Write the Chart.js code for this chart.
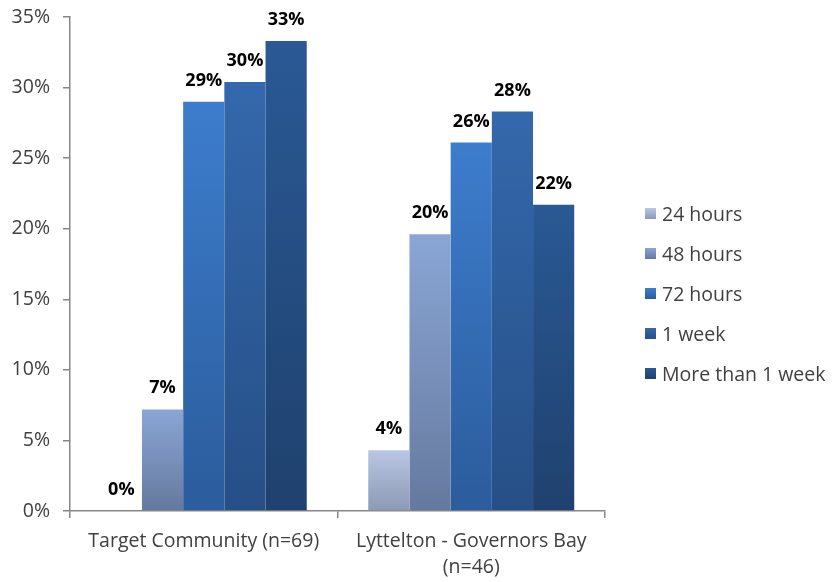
<!DOCTYPE html>
<html>
<head>
<meta charset="utf-8">
<script src="https://cdn.jsdelivr.net/npm/chart.js@4.4.1/dist/chart.umd.min.js"></script>
<style>
  body { margin: 0; background: #fff; }
  #wrap { position: relative; width: 832px; height: 582px; }
  #legend { position: absolute; left: 645px; top: 200px; font: 19.5px "Open Sans", sans-serif; color: #404040; }
  #legend .item { display: flex; align-items: center; height: 26px; margin-bottom: 14px; white-space: nowrap; }
  #legend .box { width: 11px; height: 11px; margin-right: 6px; }
</style>
</head>
<body>
<div id="wrap">
  <canvas id="barChart" width="832" height="582"></canvas>
  <div id="legend"></div>
</div>
<script>
const categories = [["Target Community (n=69)"], ["Lyttelton - Governors Bay", "(n=46)"]];
const seriesNames = ["24 hours", "48 hours", "72 hours", "1 week", "More than 1 week"];
const hours24 = [0, 4.3];
const hours48 = [7.2, 19.6];
const hours72 = [29.0, 26.1];
const oneWeek = [30.4, 28.3];
const moreThanWeek = [33.3, 21.7];
const yTicks = [0, 5, 10, 15, 20, 25, 30, 35];

// top and bottom colour of each series' gradient
const shades = [
  ["#b9c7e4", "#8b99b4"],
  ["#8aa6d5", "#65799e"],
  ["#3d7dcd", "#2b5c9c"],
  ["#3468ac", "#264f86"],
  ["#2a5995", "#1f416e"],
];

const fillFor = (i) => (ctx) => {
  const [top, bottom] = shades[i];
  const chart = ctx.chart;
  if (!chart.chartArea || ctx.type !== "data") return top;
  const y = chart.scales.y;
  const y0 = y.getPixelForValue(0);
  const y1 = y.getPixelForValue(ctx.parsed.y);
  if (y0 - y1 < 1) return top;
  const g = chart.ctx.createLinearGradient(0, y1, 0, y0);
  g.addColorStop(0, top);
  g.addColorStop(1, bottom);
  return g;
};

const values = [hours24, hours48, hours72, oneWeek, moreThanWeek];

// bold percentage above each bar
const valueLabels = {
  id: "valueLabels",
  afterDatasetsDraw(chart) {
    const c = chart.ctx;
    c.save();
    c.font = "bold 18px 'Open Sans', sans-serif";
    c.fillStyle = "#000";
    c.textAlign = "center";
    c.textBaseline = "alphabetic";
    chart.data.datasets.forEach((ds, i) => {
      chart.getDatasetMeta(i).data.forEach((bar, j) => {
        c.fillText(Math.round(ds.data[j]) + "%", bar.x, bar.y - 16);
      });
    });
    c.restore();
  },
};

new Chart(document.getElementById("barChart"), {
  type: "bar",
  data: {
    labels: categories,
    datasets: seriesNames.map((name, i) => ({
      label: name,
      data: values[i],
      backgroundColor: fillFor(i),
      borderWidth: 0,
      categoryPercentage: 0.77,
      barPercentage: 1,
    })),
  },
  options: {
    responsive: false,
    animation: false,
    layout: { padding: { left: 0, top: 17, right: 227, bottom: 0 } },
    plugins: { legend: { display: false }, tooltip: { enabled: false } },
    scales: {
      x: {
        grid: { drawOnChartArea: false, tickLength: 7, color: "#868686", lineWidth: 1.5 },
        border: { color: "#868686", width: 1.5 },
        ticks: {
          color: "#404040",
          font: { family: "'Open Sans', sans-serif", size: 19.5, lineHeight: 1.3 },
          maxRotation: 0,
          padding: 11,
        },
        afterFit: (s) => { s.height = 71; s.paddingLeft = 0; s.paddingRight = 0; },
      },
      y: {
        min: 0,
        max: 35,
        afterBuildTicks: (s) => { s.ticks = yTicks.map((v) => ({ value: v })); },
        grid: { drawOnChartArea: false, tickLength: 7, color: "#868686", lineWidth: 1.5 },
        border: { color: "#868686", width: 1.5 },
        ticks: {
          color: "#404040",
          font: { family: "'Open Sans', sans-serif", size: 19.5 },
          padding: 13,
          callback: (v) => v + "%",
        },
        afterFit: (s) => { s.width = 70; s.paddingTop = 0; s.paddingBottom = 0; },
      },
    },
  },
  plugins: [valueLabels],
});

const legend = document.getElementById("legend");
seriesNames.forEach((name, i) => {
  const item = document.createElement("div");
  item.className = "item";
  const box = document.createElement("span");
  box.className = "box";
  box.style.background = "linear-gradient(" + shades[i][0] + "," + shades[i][1] + ")";
  item.appendChild(box);
  item.appendChild(document.createTextNode(name));
  legend.appendChild(item);
});
</script>
</body>
</html>
